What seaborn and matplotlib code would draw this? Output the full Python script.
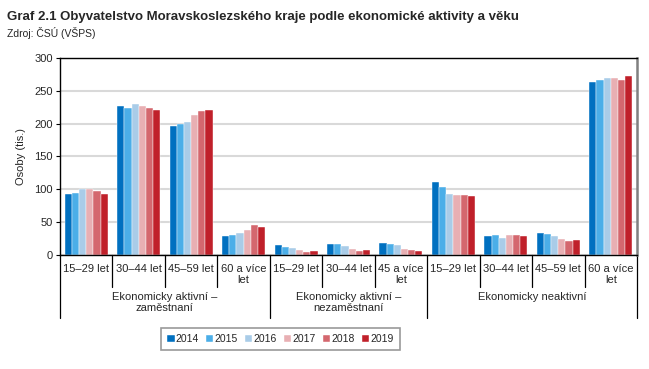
import numpy as np
import pandas as pd
import seaborn as sb
import matplotlib.pyplot as plt
import matplotlib.transforms as mtransforms

years = ['2014', '2015', '2016', '2017', '2018', '2019']
age_labels = ['15–29 let', '30–44 let', '45–59 let', '60 a více\nlet',
              '15–29 let', '30–44 let', '45 a více\nlet',
              '15–29 let', '30–44 let', '45–59 let', '60 a více\nlet']
groups = ['Ekonomicky aktivní –\nzaměstnaní', 'Ekonomicky aktivní –\nnezaměstnaní', 'Ekonomicky neaktivní']
group_sizes = [4, 3, 4]

# values per category, one list per year (tis. osob)
v2014 = [93, 227, 197, 29.5, 15, 16, 18, 111, 29.5, 33.5, 263]
v2015 = [95, 224, 199, 30.5, 12.7, 16, 17, 104, 30.5, 32, 267]
v2016 = [101, 230, 203, 33.5, 11, 13, 15, 93.5, 26, 29, 269]
v2017 = [100, 227, 213, 38.5, 7.6, 9, 9, 92, 30, 24.4, 269.5]
v2018 = [97, 224, 219, 46, 5, 6.6, 7.6, 91.5, 31, 21.4, 266.5]
v2019 = [92.5, 221, 221, 42.7, 5.6, 7, 6.6, 90.5, 28.5, 23.4, 273]

colors = ['#0070C0', '#4BAEE8', '#A9CCE8', '#E8AFB3', '#D4676E', '#C0202A']

rows = []
for yr, vals in zip(years, [v2014, v2015, v2016, v2017, v2018, v2019]):
    for i, v in enumerate(vals):
        rows.append({'cat': i, 'rok': yr, 'osoby': v})
df = pd.DataFrame(rows)

sb.set_style('white')
plt.rcParams['font.family'] = ['Liberation Sans', 'DejaVu Sans']

fig = plt.figure(figsize=(6.49, 3.69), dpi=100)
ax = fig.add_axes([0.0925, 0.309, 0.889, 0.534])

sb.barplot(data=df, x='cat', y='osoby', hue='rok', palette=colors, width=0.82, saturation=1,
           edgecolor='#FFFFFF', linewidth=0.3, ax=ax, legend=True)

ax.set_xlim(-0.5, 10.5)
ax.set_ylim(0, 300)
ax.set_yticks(np.arange(0, 301, 50))
ax.yaxis.grid(True, color='#D9D9D9', lw=1.5)
ax.set_axisbelow(True)
ax.tick_params(axis='y', labelsize=8, length=3, width=0.8, color='black', left=True, pad=2)
ax.set_xticks([])
ax.set_xlabel('')
ax.set_ylabel('Osoby (tis.)', fontsize=8, labelpad=6)

for s in ['left', 'bottom', 'top']:
    ax.spines[s].set_color('black')
    ax.spines[s].set_linewidth(1)
ax.spines['right'].set_color('#808080')
ax.spines['right'].set_linewidth(1.8)

# category labels and divider lines below the axis
trans = mtransforms.blended_transform_factory(ax.transData, ax.transAxes)
for i, lab in enumerate(age_labels):
    ax.text(i, -0.045, lab, transform=trans, ha='center', va='top', fontsize=8, linespacing=1.1)

bounds = np.cumsum([0] + group_sizes)
for b in range(12):
    x = b - 0.5
    low = -0.32 if b in bounds else -0.165
    ax.plot([x, x], [0, low], transform=trans, color='black', lw=0.9, clip_on=False)

for g, lab in enumerate(groups):
    center = (bounds[g] + bounds[g + 1] - 1) / 2
    ax.text(center, -0.19, lab, transform=trans, ha='center', va='top', fontsize=8, linespacing=1.1)

h, l = ax.get_legend_handles_labels()
ax.legend(h, l, loc='center', bbox_to_anchor=(0.432, 0.081), bbox_transform=fig.transFigure,
          ncol=6, fontsize=7.5, frameon=True, fancybox=False, edgecolor='#808080',
          handlelength=0.7, handleheight=0.7, handletextpad=0.1, columnspacing=0.7,
          borderpad=0.6)
ax.get_legend().get_frame().set_linewidth(1.2)

fig.text(0.011, 0.955, 'Graf 2.1 Obyvatelstvo Moravskoslezského kraje podle ekonomické aktivity a věku',
         fontsize=9.5, fontweight='bold', va='center')
fig.text(0.011, 0.91, 'Zdroj: ČSÚ (VŠPS)', fontsize=7.5, va='center')

plt.savefig('out.png', dpi=100)
